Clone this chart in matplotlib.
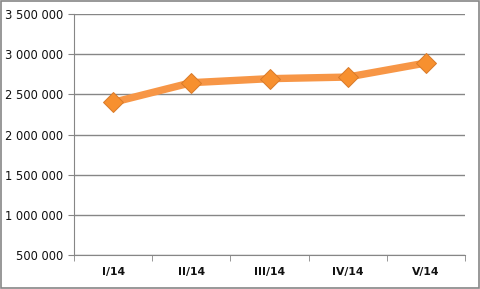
import matplotlib.pyplot as plt
from matplotlib.patches import Rectangle
from matplotlib.ticker import FuncFormatter

periods = ["I/14", "II/14", "III/14", "IV/14", "V/14"]
values = [2400000, 2645000, 2695000, 2715000, 2890000]

fig = plt.figure(figsize=(4.81, 2.89), dpi=100)
ax = fig.add_axes([74 / 481, 34 / 289, 391 / 481, 241 / 289])

x = range(len(periods))
ax.plot(x, values, color="#F79646", linewidth=5.3, solid_capstyle="butt", zorder=3)
ax.plot(x, values, linestyle="none", marker="D", markersize=10.5,
        markerfacecolor="#F7902F", markeredgecolor="#D87A2A", markeredgewidth=0.7, zorder=4)

ax.set_xlim(-0.5, len(periods) - 0.5)
ax.set_ylim(500000, 3500000)
ax.set_yticks(range(500000, 3500001, 500000))
ax.yaxis.set_major_formatter(FuncFormatter(lambda v, p: f"{int(v):,}".replace(",", " ")))
ax.set_xticks(list(x))
ax.set_xticklabels(periods, fontweight="bold")
ax.set_xticks([i - 0.5 for i in range(len(periods) + 1)], minor=True)

ax.grid(axis="y", color="#868686", linewidth=1)
ax.set_axisbelow(True)
for s in ["top", "right"]:
    ax.spines[s].set_visible(False)
for s in ["left", "bottom"]:
    ax.spines[s].set_color("#868686")
ax.tick_params(axis="y", labelsize=8.3, length=4, color="#868686", pad=4, labelcolor="#111111")
ax.tick_params(axis="x", which="major", length=0, labelsize=7.8, pad=9, labelcolor="#111111")
ax.tick_params(axis="x", which="minor", length=4, color="#868686")

fig.patches.append(Rectangle((0.002, 0.003), 0.994, 0.994, transform=fig.transFigure,
                             fill=False, edgecolor="#868686", linewidth=1.2))

fig.savefig("out.png", dpi=100)
